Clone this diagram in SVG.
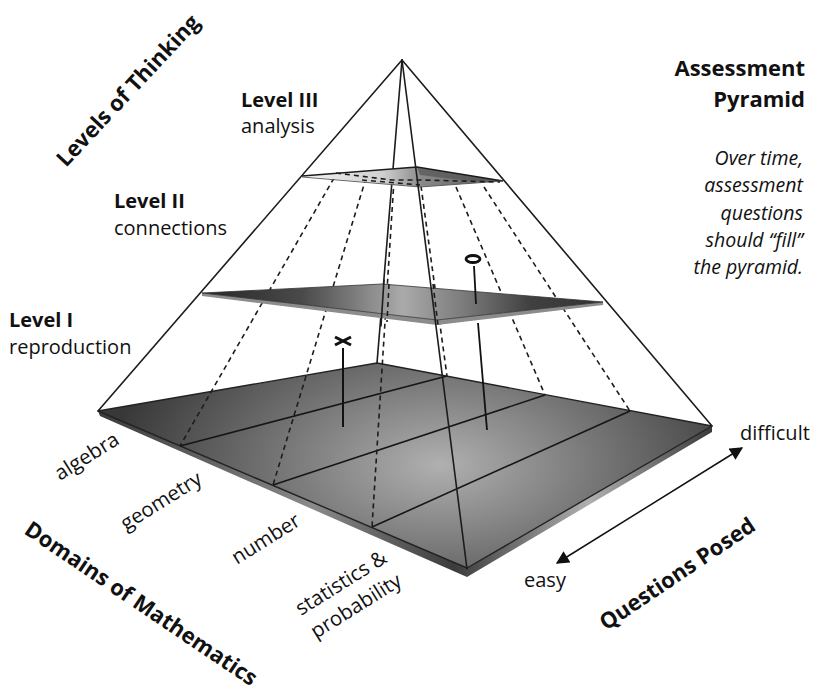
<svg xmlns="http://www.w3.org/2000/svg" width="817" height="692" viewBox="0 0 817 692">
<style>
.edge{stroke:#1c1c1c;stroke-width:1.6;fill:none;stroke-linecap:round}
.grid{stroke:#161616;stroke-width:1.6;fill:none}
.dash{stroke:#1c1c1c;stroke-width:1.6;fill:none;stroke-dasharray:5 4}
.t{font-family:"Open Sans","DejaVu Sans",sans-serif;font-size:20px;fill:#111}
.b{font-weight:bold}
.ti{font-family:"Open Sans","DejaVu Sans",sans-serif;font-size:19.5px;font-style:italic;fill:#111}
.big{font-family:"Open Sans","DejaVu Sans",sans-serif;font-size:22px;font-weight:bold;fill:#111}
.dom{font-family:"Open Sans","DejaVu Sans",sans-serif;font-size:20.5px;fill:#111}
</style>
<defs>
<radialGradient id="baseG" gradientUnits="userSpaceOnUse" cx="440" cy="465" r="330" gradientTransform="translate(440 465) scale(1 0.55) translate(-440 -465)">
<stop offset="0" stop-color="#b0b0b0"/>
<stop offset="0.45" stop-color="#7a7a7a"/>
<stop offset="1" stop-color="#383838"/>
</radialGradient>
<linearGradient id="slabG" gradientUnits="userSpaceOnUse" x1="98" y1="0" x2="712" y2="0">
<stop offset="0" stop-color="#3a3a3a"/>
<stop offset="0.35" stop-color="#8a8a8a"/>
<stop offset="0.58" stop-color="#3c3c3c"/>
<stop offset="0.8" stop-color="#b0b0b0"/>
<stop offset="1" stop-color="#3a3a3a"/>
</linearGradient>
<linearGradient id="l2G" gradientUnits="userSpaceOnUse" x1="202" y1="0" x2="603" y2="0">
<stop offset="0" stop-color="#262626"/>
<stop offset="0.25" stop-color="#4a4a4a"/>
<stop offset="0.5" stop-color="#aaaaaa"/>
<stop offset="0.65" stop-color="#7c7c7c"/>
<stop offset="0.82" stop-color="#404040"/>
<stop offset="1" stop-color="#333333"/>
</linearGradient>
<linearGradient id="l3G" gradientUnits="userSpaceOnUse" x1="302" y1="0" x2="503" y2="0">
<stop offset="0" stop-color="#f2f2f2"/>
<stop offset="0.4" stop-color="#d0d0d0"/>
<stop offset="0.6" stop-color="#888888"/>
<stop offset="1" stop-color="#5a5a5a"/>
</linearGradient>
<marker id="ah" viewBox="0 0 10 10" refX="9" refY="5" markerWidth="14" markerHeight="13" markerUnits="userSpaceOnUse" orient="auto-start-reverse">
<path d="M0,0 L10,5 L0,10 z" fill="#111"/>
</marker>
</defs>
<rect x="0" y="0" width="817" height="692" fill="#fff"/>

<g id="base">
<polygon points="98,411 467,568 712,426 712,432 467,577 100,416" fill="url(#slabG)"/>
<polygon points="98,411 377,363 712,426 467,568" fill="url(#baseG)" stroke="#222" stroke-width="1.4" stroke-linejoin="round"/>
</g>

<g id="connectors">
<g id="domain-grid">
<line class="grid" x1="180" y1="446" x2="447" y2="376"/>
<line class="grid" x1="273" y1="485" x2="545" y2="395"/>
<line class="grid" x1="372" y1="527" x2="630" y2="411"/>
</g>
<g id="hidden-lines">
<line class="dash" x1="334" y1="178" x2="180" y2="446"/>
<line class="dash" x1="366" y1="178" x2="273" y2="485"/>
<line class="dash" x1="394" y1="180" x2="372" y2="527"/>
<line class="dash" x1="421" y1="186" x2="447" y2="376"/>
<line class="dash" x1="456" y1="187" x2="545" y2="395"/>
<line class="dash" x1="484" y1="187" x2="630" y2="411"/>
</g>
<line id="back-edge" class="edge" x1="402" y1="60" x2="377" y2="363"/>
</g>

<g id="level-2-plate">
<polygon points="202,293 437,320 603,302 603,305 437,325 202,296" fill="#8c8c8c"/>
<polygon points="202,293 382,284 603,302 437,320" fill="url(#l2G)" stroke="#333" stroke-width="0.8" stroke-linejoin="round"/>
<line class="dash" x1="389" y1="284" x2="387" y2="322"/>
<line class="dash" x1="433" y1="284" x2="438" y2="325"/>
<line class="edge" x1="384" y1="280" x2="381" y2="326"/>
</g>

<g id="level-3-plate">
<polygon points="302,176 417,167 503,181 420,187" fill="url(#l3G)"/>
<polygon points="417,167 503,181 470,181 420,175" fill="#555" opacity="0.7"/>
<polyline points="302,176 417,167 503,181" fill="none" stroke="#1c1c1c" stroke-width="1.5"/>
<polyline points="302,177 420,187 503,181" fill="none" stroke="#555" stroke-width="0.9"/>
<polyline class="dash" points="336,173 392,180 421,180 500,182" stroke-width="1.3"/>
<polyline class="dash" points="362,180 420,185" stroke-width="1.3"/>
</g>

<g id="pyramid-edges">
<line class="edge" x1="402" y1="60" x2="98" y2="411"/>
<line class="edge" x1="402" y1="60" x2="712" y2="426"/>
<line class="edge" x1="402" y1="60" x2="467" y2="569"/>
</g>

<g id="marker-x">
<line x1="335" y1="337" x2="351" y2="345" stroke="#111" stroke-width="3"/>
<line x1="335" y1="345" x2="351" y2="337" stroke="#111" stroke-width="3"/>
<line x1="343" y1="348" x2="343" y2="427" stroke="#111" stroke-width="2"/>
</g>

<g id="marker-o">
<ellipse cx="473" cy="259" rx="7" ry="3.5" fill="none" stroke="#111" stroke-width="2.8"/>
<line x1="474" y1="266" x2="476" y2="304" stroke="#111" stroke-width="1.8"/>
<line x1="478" y1="323" x2="487" y2="430" stroke="#111" stroke-width="1.8"/>
</g>

<g id="questions-axis">
<line x1="557" y1="563" x2="742" y2="448" stroke="#111" stroke-width="1.5" marker-start="url(#ah)" marker-end="url(#ah)"/>
</g>

<g id="labels">
<text class="big" transform="translate(66 168) rotate(-47)">Levels of Thinking</text>
<text class="t b" x="241" y="107">Level III</text>
<text class="t" x="241" y="133">analysis</text>
<text class="t b" x="114" y="208">Level II</text>
<text class="t" x="114" y="235">connections</text>
<text class="t b" x="9" y="327">Level I</text>
<text class="t" x="9" y="354">reproduction</text>
<text class="big" x="805" y="76" text-anchor="end">Assessment</text>
<text class="big" x="805" y="107" text-anchor="end">Pyramid</text>
<text class="ti" x="803" y="165" text-anchor="end">Over time,</text>
<text class="ti" x="803" y="192" text-anchor="end">assessment</text>
<text class="ti" x="803" y="220" text-anchor="end">questions</text>
<text class="ti" x="803" y="247" text-anchor="end">should “fill”</text>
<text class="ti" x="803" y="274" text-anchor="end">the pyramid.</text>
<text class="t" x="740" y="440">difficult</text>
<text class="t" x="524" y="587">easy</text>
<text class="big" transform="translate(606 631) rotate(-34)">Questions Posed</text>
<text class="big" transform="translate(23 533) rotate(34)">Domains of Mathematics</text>
<text class="dom" transform="translate(60 481) rotate(-32)">algebra</text>
<text class="dom" transform="translate(126 531) rotate(-32)">geometry</text>
<text class="dom" transform="translate(237 565) rotate(-32)">number</text>
<text class="dom" transform="translate(301 616) rotate(-32)">statistics &amp;</text>
<text class="dom" transform="translate(316 639) rotate(-32)">probability</text>
</g>
</svg>
